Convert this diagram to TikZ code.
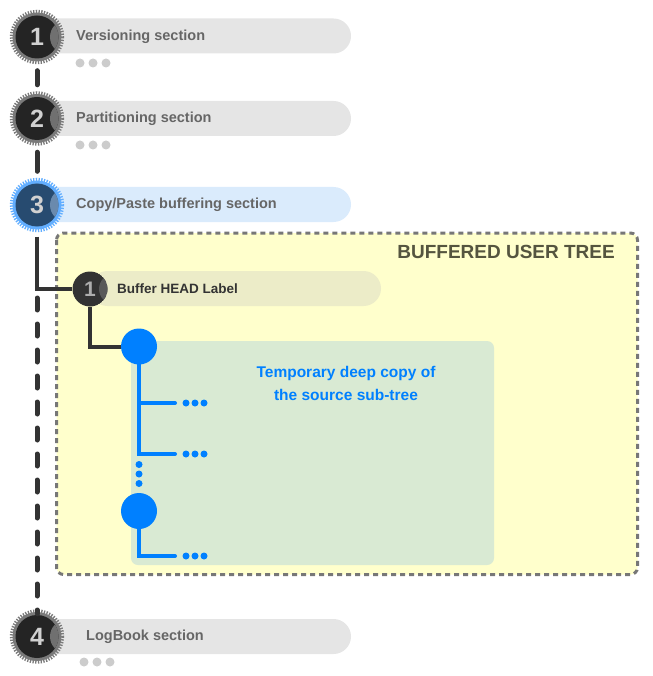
\documentclass[tikz,border=0pt]{standalone}
\usepackage{fontspec}
\setmainfont{Liberation Sans}
\definecolor{pillgray}{HTML}{E5E5E5}
\definecolor{pillblue}{HTML}{DAEBFC}
\definecolor{txtgray}{HTML}{666666}
\definecolor{teethgray}{HTML}{7A7A7A}
\definecolor{coregray}{HTML}{242424}
\definecolor{cresgray}{HTML}{707070}
\definecolor{teethblue}{HTML}{62AEFF}
\definecolor{coreblue}{HTML}{274B70}
\definecolor{cresblue}{HTML}{6A8AAD}
\definecolor{dotgray}{HTML}{CCCCCC}
\definecolor{linedark}{HTML}{333333}
\definecolor{boxyellow}{HTML}{FFFFCC}
\definecolor{boxdash}{HTML}{777777}
\definecolor{titlecol}{HTML}{55553F}
\definecolor{pillyel}{HTML}{ECECC8}
\definecolor{boxgreen}{HTML}{D9EAD3}
\definecolor{treeblue}{HTML}{0080FF}
\begin{document}
\begin{tikzpicture}[x=1pt,y=-1pt,
  pilltext/.style={font=\bfseries\fontsize{14.5}{16}\selectfont,text=txtgray,anchor=west,inner sep=0pt},
  dot/.style={circle,fill=dotgray,minimum size=9pt,inner sep=0pt},
  bdot/.style={circle,fill=treeblue,minimum size=7pt,inner sep=0pt},
  conn/.style={linedark,line width=5pt,line cap=round},
  tline/.style={treeblue,line width=4pt},
  gearnum/.style={circle,minimum size=53pt,inner sep=0pt,font=\bfseries\fontsize{25}{25}\selectfont,text=white!82!black}
]
\useasboundingbox (0,0) rectangle (652,676);

\tikzset{
  gear/.pic={
    \fill[\gearteeth] (0,0) circle (24.5);
    \draw[\gearteeth,line width=3.5pt,dash pattern=on 1.3pt off 1.4pt] (0,0) circle (25.5);
    \fill[\gearcore] (0,0) circle (21.5);
    \begin{scope}
      \clip (0,0) circle (21.5);
      \fill[\gearcres] (30,0) circle (17);
    \end{scope}
  }
}

% ---- pills (behind gears)
\fill[pillgray,rounded corners=17.5pt] (37,18.5) rectangle (351,53.5);
\fill[pillgray,rounded corners=17.5pt] (37,101) rectangle (351,136);
\fill[pillblue,rounded corners=17.5pt] (37,187) rectangle (351,222);
\fill[pillgray,rounded corners=17.5pt] (37,619) rectangle (351,654);

\node[pilltext] (p1) at (76,37) {Versioning section};
\node[pilltext] (p2) at (76,118.5) {Partitioning section};
\node[pilltext] (p3) at (76,204.5) {Copy/Paste buffering section};
\node[pilltext] (p4) at (86,636.5) {LogBook section};

% dots under pills
\foreach \x in {80,93,106} \node[dot] at (\x,63) {};
\foreach \x in {80,93,106} \node[dot] at (\x,145) {};
\foreach \x in {84,97,110} \node[dot] at (\x,662) {};

% ---- buffered user tree box
\draw[boxdash,fill=boxyellow,line width=3pt,dash pattern=on 5pt off 4pt,rounded corners=7pt]
  (56.5,233) rectangle (637.5,574.5);
\node[font=\bfseries\fontsize{19}{20}\selectfont,text=titlecol,anchor=east,inner sep=0pt] (title) at (615,252) {BUFFERED USER TREE};

% green box
\fill[boxgreen,rounded corners=7pt] (131,341) rectangle (494,565);
\node[font=\bfseries\fontsize{15.5}{23}\selectfont,text=treeblue,align=center] (tmp) at (346,383.5)
  {Temporary deep copy of\\the source sub-tree};

% buffer head pill
\fill[pillyel,rounded corners=17.5pt] (90,271) rectangle (381,306);
\node[font=\bfseries\fontsize{13.5}{15}\selectfont,text=linedark,anchor=west,inner sep=0pt] (bl) at (117,288.5) {Buffer HEAD Label};

% ---- gears
\def\gearteeth{teethgray}\def\gearcore{coregray}\def\gearcres{cresgray}
\pic at (37,37) {gear};
\pic at (37,118.5) {gear};
\pic at (37,636.5) {gear};
\def\gearteeth{teethblue}\def\gearcore{coreblue}\def\gearcres{cresblue}
\pic at (37,205) {gear};

\node[gearnum] (g1) at (37,37) {1};
\node[gearnum] (g2) at (37,118.5) {2};
\node[gearnum] (g3) at (37,205) {3};
\node[gearnum] (g4) at (37,636.5) {4};

% ---- buffer head circle
\begin{scope}
  \clip (90,289) circle (17.5);
  \fill[linedark] (90,289) circle (17.5);
  \fill[white!35!black] (114,289) circle (15);
\end{scope}
\node[circle,minimum size=35pt,inner sep=0pt,font=\bfseries\fontsize{21}{21}\selectfont,text=white!68!black] (b1) at (90,289) {1};

% ---- connectors in main column
\coordinate (corner) at (37,289);
\draw[conn,shorten <=7pt,shorten >=7pt] (g1) -- (g2);
\draw[conn,shorten <=7pt,shorten >=7pt] (g2) -- (g3);
\draw[linedark,line width=4.5pt,line join=miter,shorten <=5pt] (g3) -- (corner) -- (b1);
\draw[conn,dash pattern=on 12pt off 14pt,dash phase=-9pt] (corner) -- ([yshift=-4pt]g4.north);

% ---- blue tree
\node[circle,fill=treeblue,minimum size=36pt,inner sep=0pt] (n1) at (139,346.5) {};
\node[circle,fill=treeblue,minimum size=36pt,inner sep=0pt] (n2) at (139,511) {};
\draw[linedark,line width=4pt,line join=miter] (b1.south) |- (n1);
\coordinate (j1) at (139,403);
\coordinate (j2) at (139,454);
\coordinate (e1) at (175,403);
\coordinate (e2) at (175,454);
\coordinate (e3) at (175,556);
\draw[tline,line join=miter,line cap=round] (n1.center) -- (j2) -- (e2);
\draw[tline,line cap=round] (j1) -- (e1);
\draw[tline,line join=miter,line cap=round] (n2.center) |- (e3);
\foreach \y in {403,454,556} \foreach \x in {186,195,204} \node[bdot] at (\x,\y) {};
\foreach \y in {464.5,474,483.5} \node[bdot] at (139,\y) {};
\end{tikzpicture}
\end{document}
